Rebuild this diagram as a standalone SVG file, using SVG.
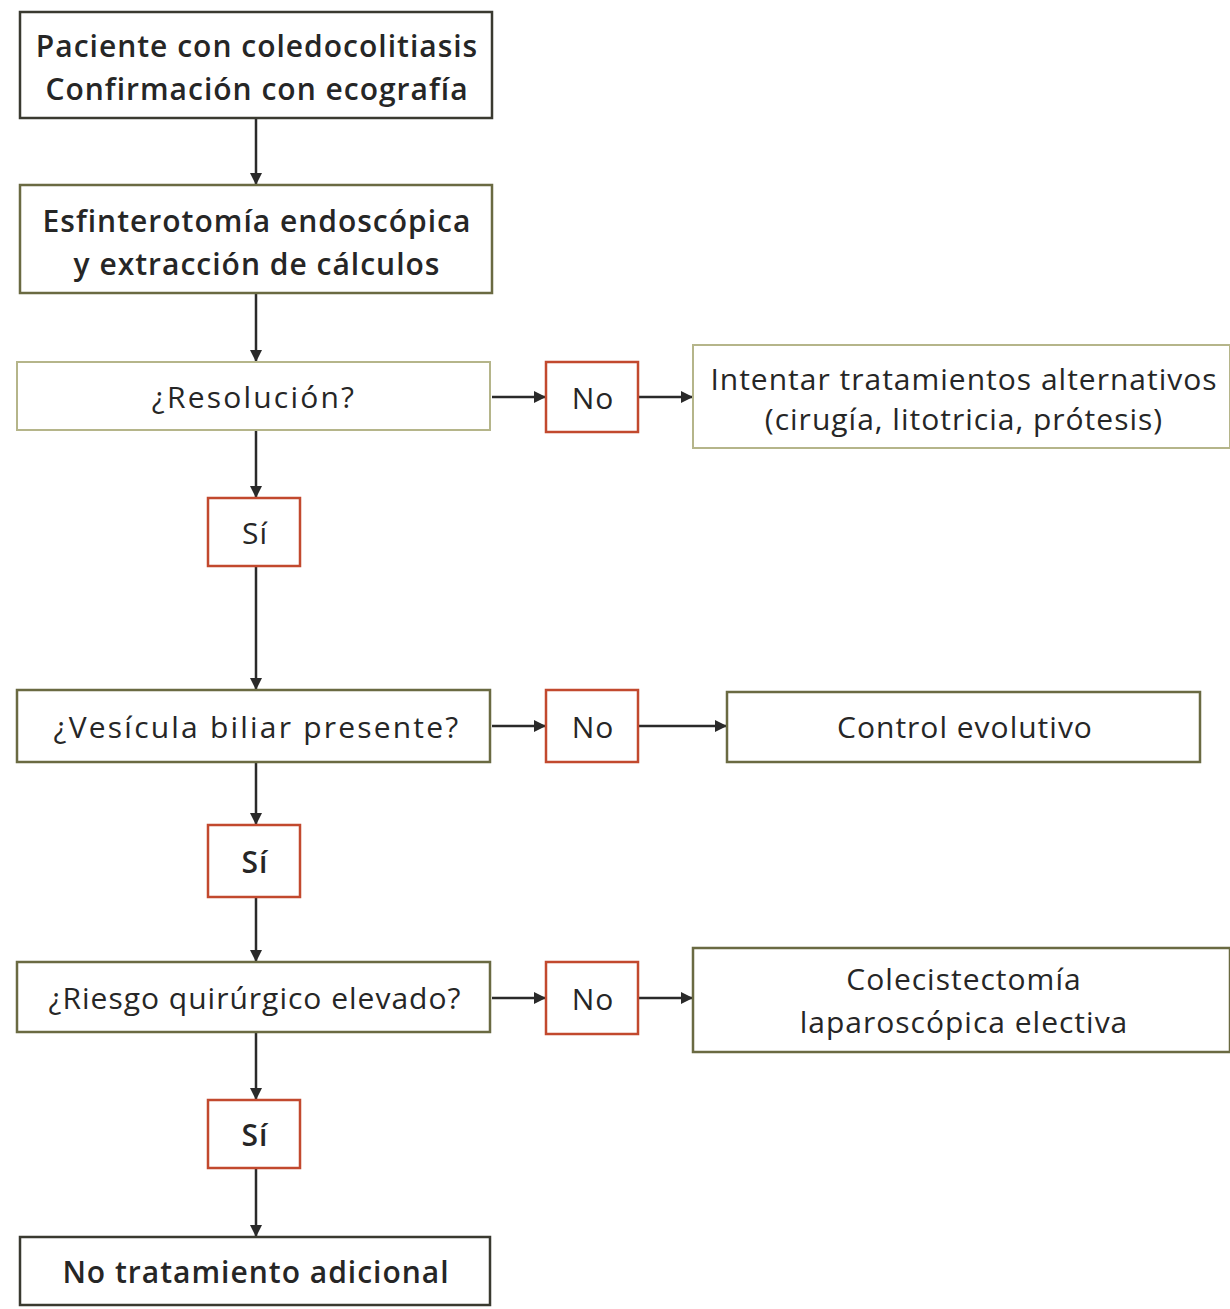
<svg xmlns="http://www.w3.org/2000/svg" width="1230" height="1309" viewBox="0 0 1230 1309">
<defs>
<marker id="arr" viewBox="0 0 10 10" refX="10" refY="5" markerWidth="14" markerHeight="12" markerUnits="userSpaceOnUse" orient="auto">
<path d="M0,0 L10,5 L0,10 z" fill="#2a2a2a"/>
</marker>
<style>
rect.main{fill:#fff;stroke:#3a3a30;stroke-width:2.5}
rect.yel{fill:#fff;stroke:#6a6a42;stroke-width:2.5}
rect.lite{fill:#fff;stroke:#b5b58a;stroke-width:2}
rect.dec{fill:#fff;stroke:#c2492e;stroke-width:2.5}
text{font-family:"Open Sans","Noto Sans",sans-serif;fill:#262626;text-anchor:middle;dominant-baseline:central;font-size:30px;letter-spacing:1px}
.b{font-weight:600}
.r{font-weight:400}
.m{font-weight:500}
.w{letter-spacing:2.2px}
line{stroke:#2a2a2a;stroke-width:2.5;marker-end:url(#arr)}
</style>
</defs>
<g id="connectors">
<line x1="256" y1="118" x2="256" y2="185"/>
<line x1="256" y1="293" x2="256" y2="362"/>
<line x1="256" y1="430" x2="256" y2="498"/>
<line x1="256" y1="566" x2="256" y2="690"/>
<line x1="256" y1="762" x2="256" y2="825"/>
<line x1="256" y1="897" x2="256" y2="962"/>
<line x1="256" y1="1032" x2="256" y2="1100"/>
<line x1="256" y1="1168" x2="256" y2="1237"/>
<line x1="492" y1="397" x2="546" y2="397"/>
<line x1="638" y1="397" x2="693" y2="397"/>
<line x1="492" y1="726" x2="546" y2="726"/>
<line x1="638" y1="726" x2="727" y2="726"/>
<line x1="492" y1="998" x2="546" y2="998"/>
<line x1="638" y1="998" x2="693" y2="998"/>
</g>
<g id="n1"><rect class="main" x="20" y="12" width="472" height="106"/>
<text class="b" x="257" y="45">Paciente con coledocolitiasis</text>
<text class="b" x="257" y="88">Confirmación con ecografía</text></g>
<g id="n2"><rect class="yel" x="20" y="185" width="472" height="108"/>
<text class="b" x="257" y="220">Esfinterotomía endoscópica</text>
<text class="b" x="257" y="263">y extracción de cálculos</text></g>
<g id="n3"><rect class="lite" x="17" y="362" width="473" height="68"/>
<text class="r w" x="254" y="396">¿Resolución?</text></g>
<g id="no1"><rect class="dec" x="546" y="362" width="92" height="70"/>
<text class="m" x="593" y="397">No</text></g>
<g id="n4"><rect class="lite" x="693" y="345" width="537" height="103"/>
<text class="r" x="964" y="378">Intentar tratamientos alternativos</text>
<text class="r" x="964" y="418">(cirugía, litotricia, prótesis)</text></g>
<g id="si1"><rect class="dec" x="208" y="498" width="92" height="68"/>
<text class="r" x="255" y="532">Sí</text></g>
<g id="n5"><rect class="yel" x="17" y="690" width="473" height="72"/>
<text class="m w" x="257" y="726">¿Vesícula biliar presente?</text></g>
<g id="no2"><rect class="dec" x="546" y="690" width="92" height="72"/>
<text class="m" x="593" y="726">No</text></g>
<g id="n6"><rect class="yel" x="727" y="692" width="473" height="70"/>
<text class="r" x="965" y="726">Control evolutivo</text></g>
<g id="si2"><rect class="dec" x="208" y="825" width="92" height="72"/>
<text class="b" x="255" y="861">Sí</text></g>
<g id="n7"><rect class="yel" x="17" y="962" width="473" height="70"/>
<text class="r" x="255" y="997">¿Riesgo quirúrgico elevado?</text></g>
<g id="no3"><rect class="dec" x="546" y="962" width="92" height="72"/>
<text class="m" x="593" y="998">No</text></g>
<g id="n8"><rect class="yel" x="693" y="948" width="537" height="104"/>
<text class="r" x="964" y="978">Colecistectomía</text>
<text class="r" x="964" y="1021">laparoscópica electiva</text></g>
<g id="si3"><rect class="dec" x="208" y="1100" width="92" height="68"/>
<text class="b" x="255" y="1134">Sí</text></g>
<g id="n9"><rect class="main" x="20" y="1237" width="470" height="68"/>
<text class="b" x="256" y="1271">No tratamiento adicional</text></g>
</svg>
